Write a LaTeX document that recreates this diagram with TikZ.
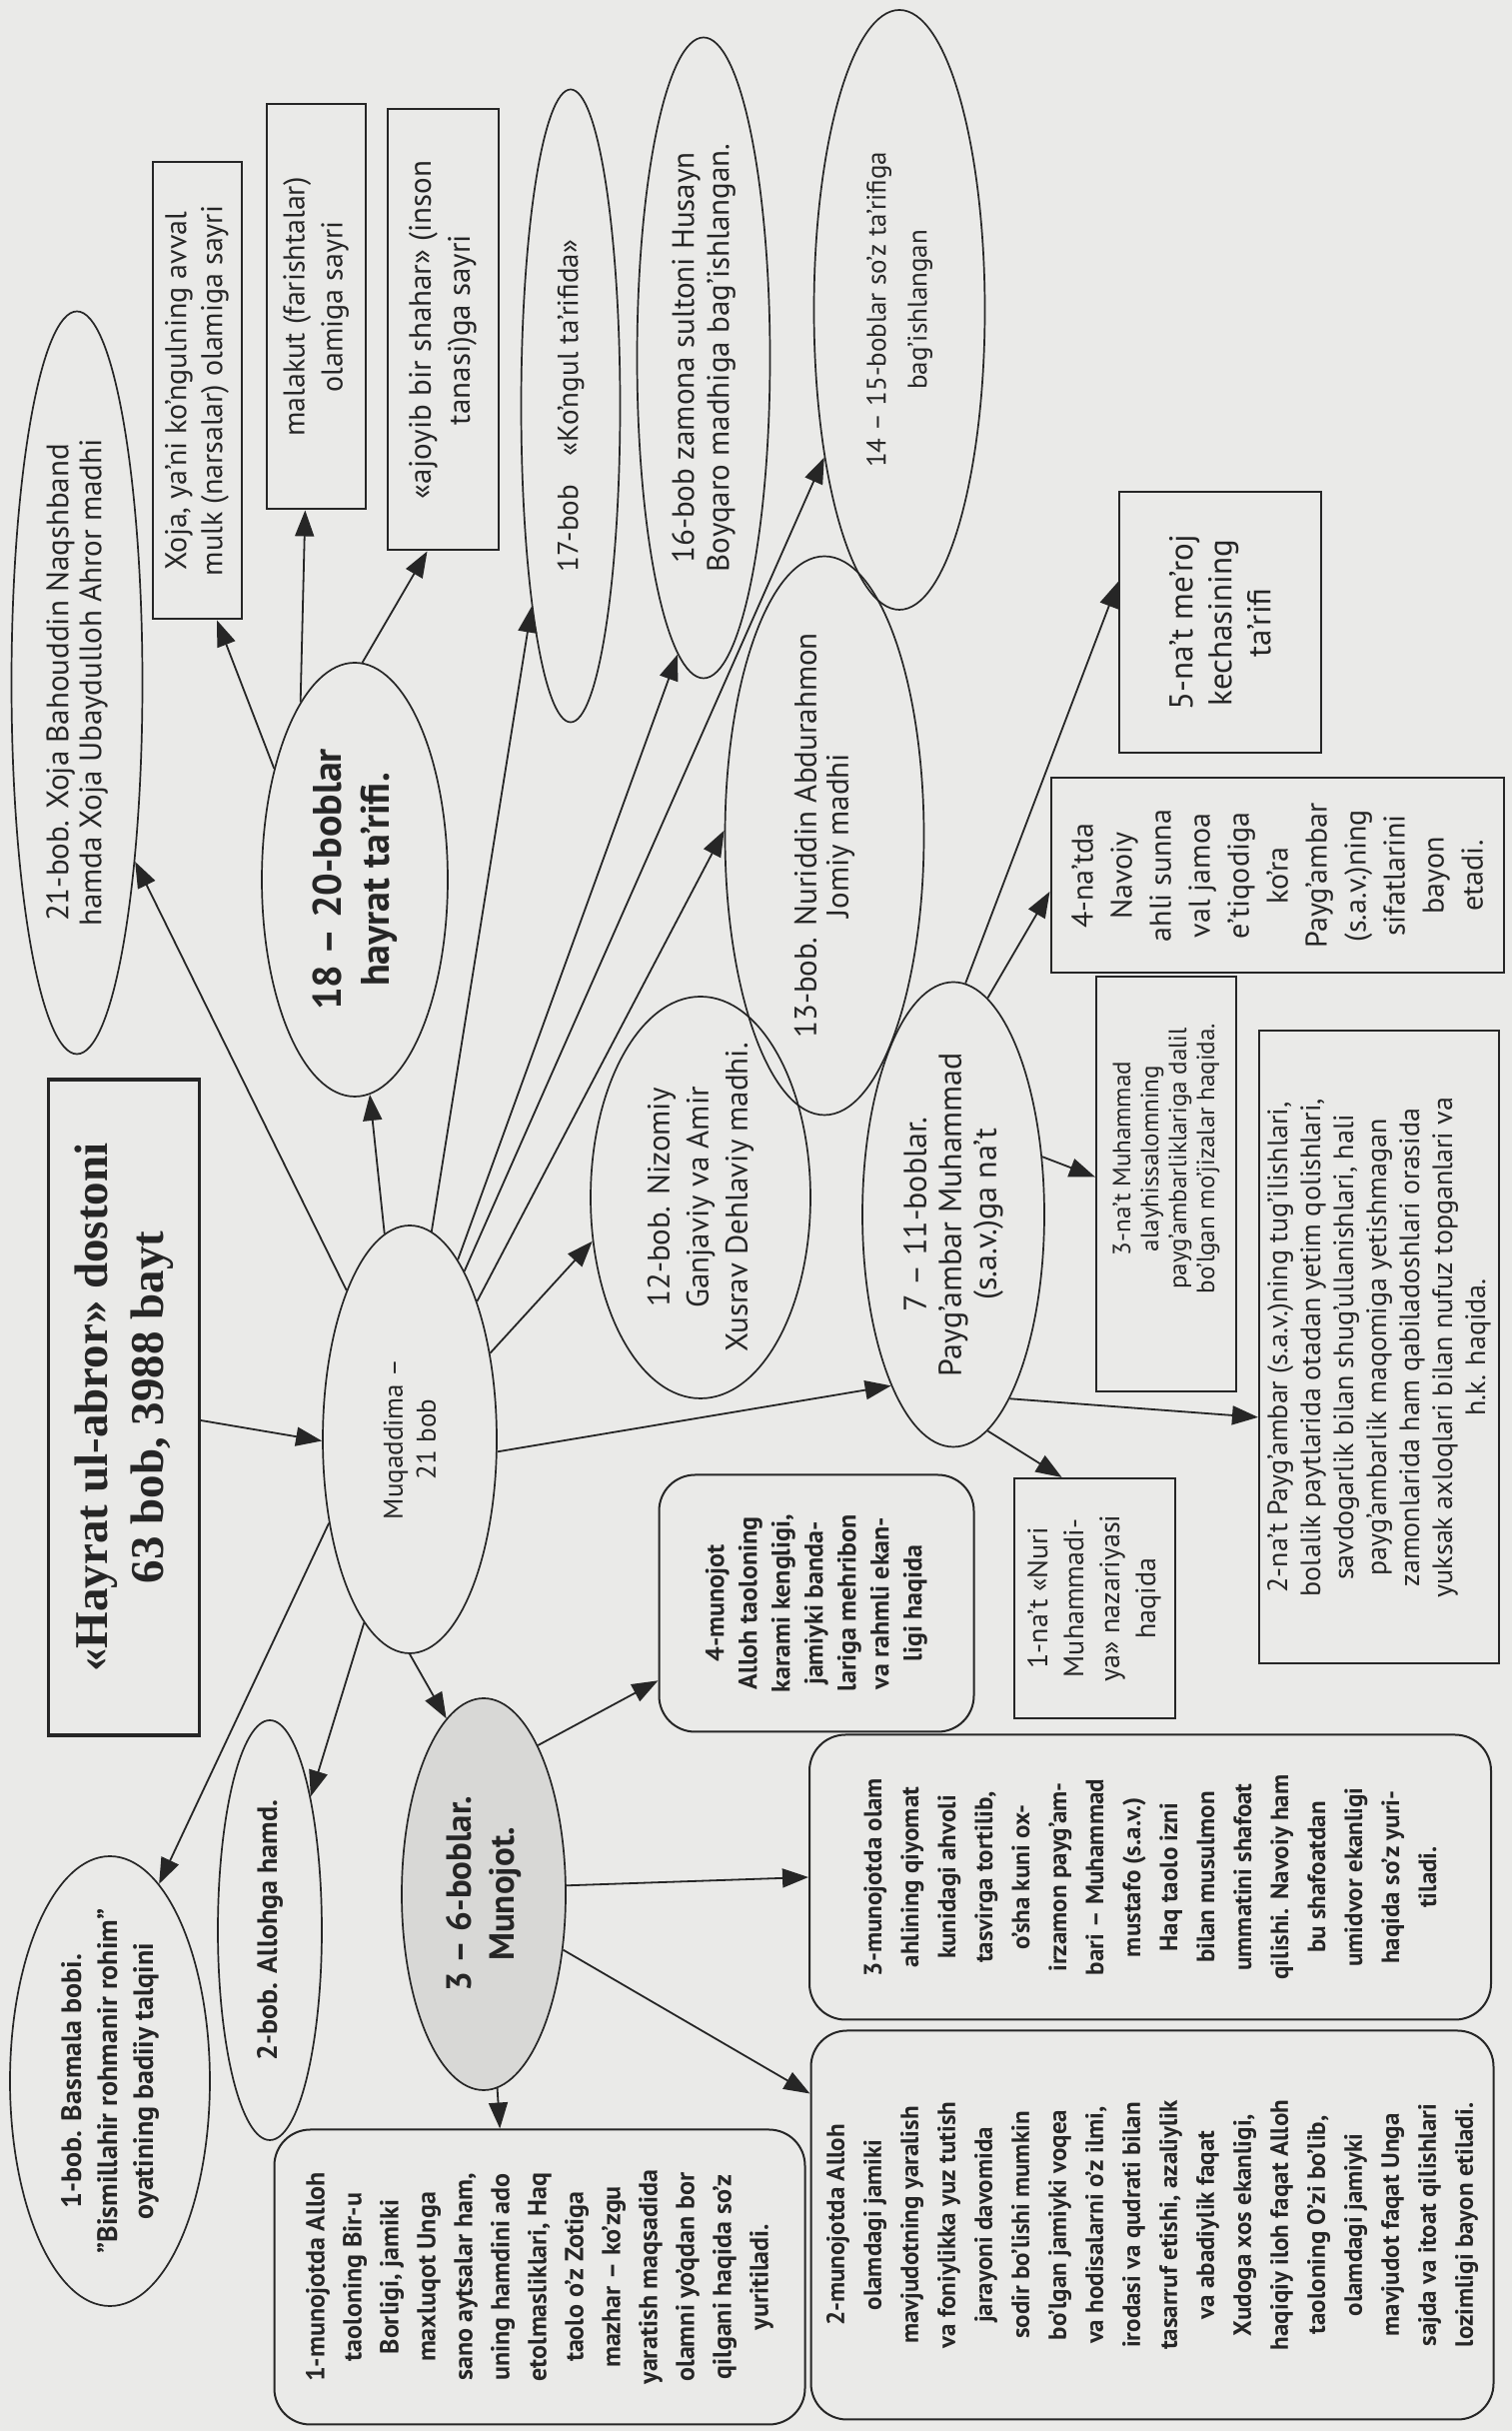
\documentclass[tikz,border=0pt]{standalone}
\usepackage{fontspec}
\setmainfont{PT Sans}
\newfontfamily\titlefont{Liberation Serif}
\usetikzlibrary{shapes.geometric,arrows.meta}
\definecolor{bg}{HTML}{EAEAE8}
\definecolor{ink}{HTML}{262626}
\definecolor{grayfill}{HTML}{D8D8D6}
\begin{document}
\begin{tikzpicture}[x=0.5pt,y=0.5pt,
  every node/.style={align=center, text=ink},
  f/.style 2 args={font=\fontsize{#1pt}{#2pt}\selectfont},
  fb/.style 2 args={font=\fontsize{#1pt}{#2pt}\selectfont\bfseries},
  ell/.style={ellipse, draw=ink, line width=0.85pt, inner xsep=-40pt, inner ysep=-15pt},
  box/.style={rectangle, draw=ink, line width=1pt, inner sep=0pt},
  rbox/.style={rectangle, rounded corners=18pt, draw=ink, line width=1pt, inner sep=0pt},
  arr/.style={draw=ink, line width=0.9pt, -{Triangle[length=13pt,width=9.5pt]}},
]
\fill[bg] (0,0) rectangle (1513,2432);
\useasboundingbox (0,0) rectangle (1513,2432);
\begin{scope}[rotate=90, transform shape]
% title and centre
\node[box, line width=1.6pt, minimum width=328pt, minimum height=75.5pt,
      font=\titlefont\fontsize{23.5pt}{28pt}\selectfont\bfseries] (title) at (1024,-124)
  {«Hayrat ul-abror» dostoni\\63 bob, 3988 bayt};
\node[ell, minimum width=214pt, minimum height=87pt, f={13.5}{16.5}] (muq) at (992,-410)
  {Muqaddima –\\21 bob};
% upper ellipses
\node[ell, minimum width=371.5pt, minimum height=65.5pt, f={15.5}{16.5}] (b21) at (1749,-77)
  {21-bob. Xoja Bahouddin Naqshband\\hamda Xoja Ubaydulloh Ahror madhi};
\node[ell, minimum width=217pt, minimum height=93pt, fb={20}{24}] (b1820) at (1552,-355)
  {18 – 20-boblar\\hayrat ta’rifi.};
\node[box, minimum width=228.5pt, minimum height=44.5pt, f={15}{18}] (xoja) at (2041,-197)
  {Xoja, ya’ni ko’ngulning avval\\mulk (narsalar) olamiga sayri};
\node[box, minimum width=202.5pt, minimum height=49.5pt, f={15}{19}] (malakut) at (2125,-316)
  {malakut (farishtalar)\\olamiga sayri};
\node[box, minimum width=220.5pt, minimum height=55.5pt, f={15.5}{19.5}] (ajoyib) at (2102,-443)
  {«ajoyib bir shahar» (inson\\tanasi)ga sayri};
\node[ell, minimum width=316.5pt, minimum height=49.5pt, f={14.5}{17}] (b17) at (2026,-571)
  {17-bob\quad «Ko’ngul ta’rifida»};
\node[ell, minimum width=320.5pt, minimum height=66.5pt, f={15.5}{17.5}] (b16) at (2074,-704)
  {16-bob zamona sultoni Husayn\\Boyqaro madhiga bag’ishlangan.};
\node[ell, minimum width=300pt, minimum height=85.5pt, f={13.5}{20.5}] (b1415) at (2122,-900)
  {14 – 15-boblar so’z ta’rifiga\\bag’ishlangan};
\node[ell, minimum width=279.5pt, minimum height=99.5pt, f={15.5}{16}] (b13) at (1596,-825)
  {13-bob. Nuriddin Abdurahmon\\Jomiy madhi};
\node[ell, minimum width=201pt, minimum height=110pt, f={15.5}{19.5}] (b12) at (1234,-701)
  {12-bob. Nizomiy\\Ganjaviy va Amir\\Xusrav Dehlaviy madhi.};
\node[ell, minimum width=232.5pt, minimum height=91pt, f={16}{17.5}] (b711) at (1217,-954)
  {7 – 11-boblar.\\Payg’ambar Muhammad\\(s.a.v.)ga na’t};
% na't boxes
\node[box, minimum width=97.5pt, minimum height=226.5pt, f={15}{19.5}] (nat4) at (1556,-1278)
  {4-na’tda\\Navoiy\\ahli sunna\\val jamoa\\e’tiqodiga\\ko’ra\\Payg’ambar\\(s.a.v.)ning\\sifatlarini\\bayon\\etadi.};
\node[box, minimum width=130.5pt, minimum height=101pt, f={16.5}{19.5}] (nat5) at (1809,-1221)
  {5-na’t me’roj\\kechasining\\ta’rifi};
\node[box, minimum width=207.5pt, minimum height=70pt, f={12.5}{14}] (nat3) at (1247,-1167)
  {\hspace*{26pt}3-na’t Muhammad\\\hspace*{26pt}alayhissalomning\\\hspace*{26pt}payg’ambarliklariga dalil\\\hspace*{26pt}bo’lgan mo’jizalar haqida.};
\node[box, minimum width=316.5pt, minimum height=120pt, f={14}{16.5}] (nat2) at (1084,-1380)
  {2-na’t Payg’ambar (s.a.v.)ning tug’ilishlari,\\bolalik paytlarida otadan yetim qolishlari,\\savdogarlik bilan shug’ullanishlari, hali\\payg’ambarlik maqomiga yetishmagan\\zamonlarida ham qabiladoshlari orasida\\yuksak axloqlari bilan nufuz topganlari va\\h.k. haqida.};
\node[box, minimum width=120pt, minimum height=80.5pt, f={14}{18}] (nat1) at (833,-1095)
  {1-na’t «Nuri\\Muhammadi-\\ya» nazariyasi\\haqida};
% munojot part
\node[rbox, minimum width=128.5pt, minimum height=157.5pt, fb={13}{16.5}] (mun4) at (828,-817)
  {4-munojot\\Alloh taoloning\\karami kengligi,\\jamiyki banda-\\lariga mehribon\\va rahmli ekan-\\ligi haqida};
\node[ell, fill=grayfill, minimum width=196pt, minimum height=82pt, fb={17.5}{21.5}] (b36) at (537,-484)
  {3 – 6-boblar.\\Munojot.};
\node[ell, minimum width=210pt, minimum height=52pt, fb={14}{17}] (b2) at (501,-270)
  {2-bob. Allohga hamd.};
\node[ell, minimum width=225pt, minimum height=100pt, fb={14}{18}] (b1) at (350,-110)
  {1-bob. Basmala bobi.\\"Bismillahir rohmanir rohim"\\oyatining badiiy talqini};
\node[rbox, minimum width=147.5pt, minimum height=265.5pt, fb={13}{18.5}] (mun1) at (154,-540)
  {1-munojotda Alloh\\taoloning Bir-u\\Borligi, jamiki\\maxluqot Unga\\sano aytsalar ham,\\uning hamdini ado\\etolmasliklari, Haq\\taolo o’z Zotiga\\mazhar – ko’zgu\\yaratish maqsadida\\olamni yo’qdan bor\\qilgani haqida so’z\\yuritiladi.};
\node[rbox, minimum width=194.5pt, minimum height=341.5pt, fb={12.5}{18.5}] (mun2) at (206,-1153)
  {2-munojotda Alloh\\olamdagi jamiki\\mavjudotning yaralish\\va foniylikka yuz tutish\\jarayoni davomida\\sodir bo’lishi mumkin\\bo’lgan jamiyki voqea\\va hodisalarni o’z ilmi,\\irodasi va qudrati bilan\\tasarruf etishi, azaliylik\\va abadiylik faqat\\Xudoga xos ekanligi,\\haqiqiy iloh faqat Alloh\\taoloning O’zi bo’lib,\\olamdagi jamiyki\\mavjudot faqat Unga\\sajda va itoat qilishlari\\lozimligi bayon etiladi.};
\node[rbox, minimum width=142.5pt, minimum height=341pt, fb={12.5}{18.5}] (mun3) at (554,-1151)
  {3-munojotda olam\\ahlining qiyomat\\kunidagi ahvoli\\tasvirga tortilib,\\o’sha kuni ox-\\irzamon payg’am-\\bari – Muhammad\\mustafo (s.a.v.)\\Haq taolo izni\\bilan musulmon\\ummatini shafoat\\qilishi. Navoiy ham\\bu shafoatdan\\umidvor ekanligi\\haqida so’z yuri-\\tiladi.};
% connectors
\draw[arr] (title) -- (muq.91);
\draw[arr] (muq.23) -- (b21.198);
\draw[arr] (muq.7) -- (b1820.184);
\draw[arr] (muq.354) -- (b17.169);
\draw[arr] (muq.345) -- (b16.175);
\draw[arr] (muq.342) -- (b1415.153);
\draw[arr] (muq.334) -- (b13.87);
\draw[arr] (muq.317) -- (b12.112);
\draw[arr] (muq.262) -- (b711.160);
\draw[arr] (muq.136) -- (b1.346);
\draw[arr] (muq.166) -- (b2.343);
\draw[arr] (muq.180) -- (b36.12);
\draw[arr] (b1820.36) -- (xoja.185);
\draw[arr] (b1820.17) -- (malakut.177);
\draw[arr] (b1820.358) -- (ajoyib.176);
\draw[arr] (b36.184) -- (mun1.15);
\draw[arr] (b36.235) -- (mun2.69);
\draw[arr] (b36.276) -- (mun3.90);
\draw[arr] (b36.340) -- (mun4.116);
\draw[arr] (b711.189) -- (nat1.15);
\draw[arr] (b711.197) -- (nat2.120);
\draw[arr] (b711.303) -- (nat3.84);
\draw[arr] (b711.351) -- (nat4.94);
\draw[arr] (b711.357) -- (nat5.68);
\end{scope}
\end{tikzpicture}
\end{document}
